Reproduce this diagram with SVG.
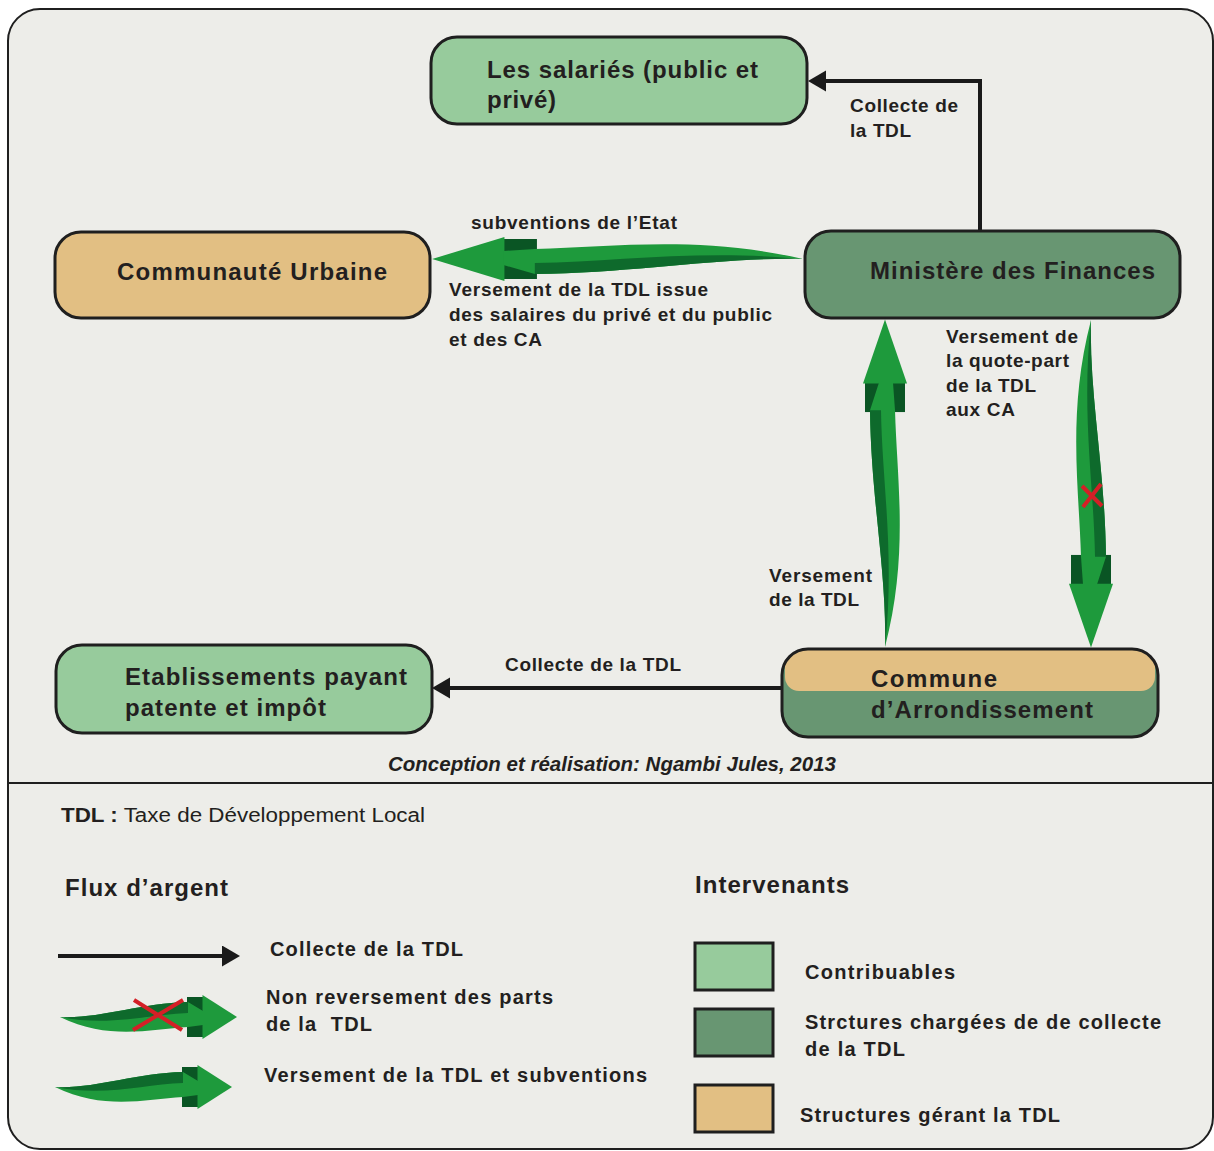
<svg xmlns="http://www.w3.org/2000/svg" width="1214" height="1151" viewBox="0 0 1214 1151">
<style>
.frame{fill:#EDEDE9;stroke:#1f1f1f;stroke-width:2}
.box{stroke:#1f1f1f;stroke-width:3}
.lg{fill:#97CB9C}.dg{fill:#689672}.tan{fill:#E2BF83}
text{font-family:"Liberation Sans",Arial,sans-serif;fill:#231F20}
.n{font-size:24px;font-weight:bold}
.l{font-size:19px;font-weight:bold}
.h{font-size:24px;font-weight:bold}
.t{font-size:20px;font-weight:bold}
.blk{fill:none;stroke:#1a1a1a;stroke-width:4;marker-end:url(#ah)}
.bright{fill:#1E9A3C}.dark{fill:#0E6A2C}.band{fill:#0A5524}
.rx{stroke:#D42027;stroke-width:4;stroke-linecap:butt}
</style>
<defs>
<marker id="ah" markerUnits="userSpaceOnUse" markerWidth="20" markerHeight="22" refX="2" refY="10.5" orient="auto">
<path d="M0,0 L18,10.5 L0,21 Z" fill="#1a1a1a"/>
</marker>
<g id="ga">
<rect class="band" x="127" y="-20" width="16" height="40"/>
<polygon class="bright" points="142.5,-22 142.5,22 177,0"/>
<path class="bright" d="M0,0 C40,2 80,-14 128,-15 L143,-6 L143,8 L128,10 C90,12 50,24 0,0 Z"/>
<path class="dark" d="M0,0 C40,2 80,-14 128,-15 L128,-4 C90,-3 50,10 0,0 Z"/>
</g>
<clipPath id="cc"><rect x="782" y="649" width="376" height="88" rx="26"/></clipPath>
</defs>

<rect class="frame" x="8" y="9" width="1205" height="1140" rx="32"/>
<line x1="8" y1="783" x2="1213" y2="783" stroke="#1f1f1f" stroke-width="2"/>

<g id="connectors">
<path class="blk" d="M980,231 V81 H824"/>
<path class="blk" d="M781,688 H448"/>
<use href="#ga" transform="translate(803,259) scale(-2.095,-1)"/>
<use href="#ga" transform="translate(885,647) rotate(-90) scale(1.85,1)"/>
<use href="#ga" transform="translate(1091,320) rotate(90) scale(1.85,1)"/>
<g class="rx"><line x1="1082" y1="486" x2="1102" y2="506"/><line x1="1083" y1="507" x2="1101" y2="484"/></g>
<text class="l" x="850" y="112" textLength="108">Collecte de</text>
<text class="l" x="850" y="137" textLength="61">la TDL</text>
<text class="l" x="505" y="671" textLength="176">Collecte de la TDL</text>
<text class="l" x="471" y="229" textLength="206">subventions de l’Etat</text>
<text class="l" x="449" y="296" textLength="259">Versement de la TDL issue</text>
<text class="l" x="449" y="321" textLength="323">des salaires du privé et du public</text>
<text class="l" x="449" y="346" textLength="93">et des CA</text>
<text class="l" x="946" y="343" textLength="132">Versement de</text>
<text class="l" x="946" y="367" textLength="123">la quote-part</text>
<text class="l" x="946" y="392" textLength="90">de la TDL</text>
<text class="l" x="946" y="416" textLength="69">aux CA</text>
<text class="l" x="769" y="582" textLength="103">Versement</text>
<text class="l" x="769" y="606" textLength="90">de la TDL</text>
</g>

<g id="salaries">
<rect class="box lg" x="431" y="37" width="376" height="87" rx="26"/>
<text class="n" x="487" y="78" textLength="271">Les salariés (public et</text>
<text class="n" x="487" y="108" textLength="69">privé)</text>
</g>
<g id="communaute">
<rect class="box tan" x="55" y="232" width="375" height="86" rx="26"/>
<text class="n" x="117" y="280" textLength="270">Communauté Urbaine</text>
</g>
<g id="ministere">
<rect class="box dg" x="805" y="231" width="375" height="87" rx="26"/>
<text class="n" x="870" y="279" textLength="285">Ministère des Finances</text>
</g>
<g id="etablissements">
<rect class="box lg" x="56" y="645" width="376" height="88" rx="26"/>
<text class="n" x="125" y="685" textLength="282">Etablissements payant</text>
<text class="n" x="125" y="716" textLength="201">patente et impôt</text>
</g>
<g id="commune">
<rect class="dg" x="782" y="649" width="376" height="88" rx="26"/>
<rect class="tan" x="785" y="630" width="370" height="61" rx="14" clip-path="url(#cc)"/>
<rect class="box" fill="none" x="782" y="649" width="376" height="88" rx="26"/>
<text class="n" x="871" y="687" textLength="126">Commune</text>
<text class="n" x="871" y="718" textLength="222">d’Arrondissement</text>
</g>

<text x="388" y="771" font-size="20" font-style="italic" font-weight="bold" textLength="448" lengthAdjust="spacingAndGlyphs">Conception et réalisation: Ngambi Jules, 2013</text>

<g id="legend">
<text x="61" y="822" font-size="20" textLength="364" lengthAdjust="spacingAndGlyphs"><tspan font-weight="bold">TDL :</tspan> Taxe de Développement Local</text>
<text class="h" x="65" y="896" textLength="163">Flux d’argent</text>
<text class="h" x="695" y="893" textLength="154">Intervenants</text>
<path class="blk" d="M58,956 H224"/>
<text class="t" x="270" y="956" textLength="193">Collecte de la TDL</text>
<use href="#ga" transform="translate(60,1017)"/>
<g class="rx"><line x1="134" y1="1000" x2="182" y2="1030"/><line x1="133" y1="1030" x2="183" y2="1000"/></g>
<text class="t" x="266" y="1004" textLength="287">Non reversement des parts</text>
<text class="t" x="266" y="1031" textLength="106" xml:space="preserve">de la  TDL</text>
<use href="#ga" transform="translate(55,1087)"/>
<text class="t" x="264" y="1082" textLength="383">Versement de la TDL et subventions</text>
<rect class="box lg" x="695" y="943" width="78" height="47"/>
<rect class="box dg" x="695" y="1009" width="78" height="47"/>
<rect class="box tan" x="695" y="1085" width="78" height="47"/>
<text class="t" x="805" y="979" textLength="150">Contribuables</text>
<text class="t" x="805" y="1029" textLength="356">Strctures chargées de de collecte</text>
<text class="t" x="805" y="1056" textLength="100">de la TDL</text>
<text class="t" x="800" y="1122" textLength="260">Structures gérant la TDL</text>
</g>
</svg>
